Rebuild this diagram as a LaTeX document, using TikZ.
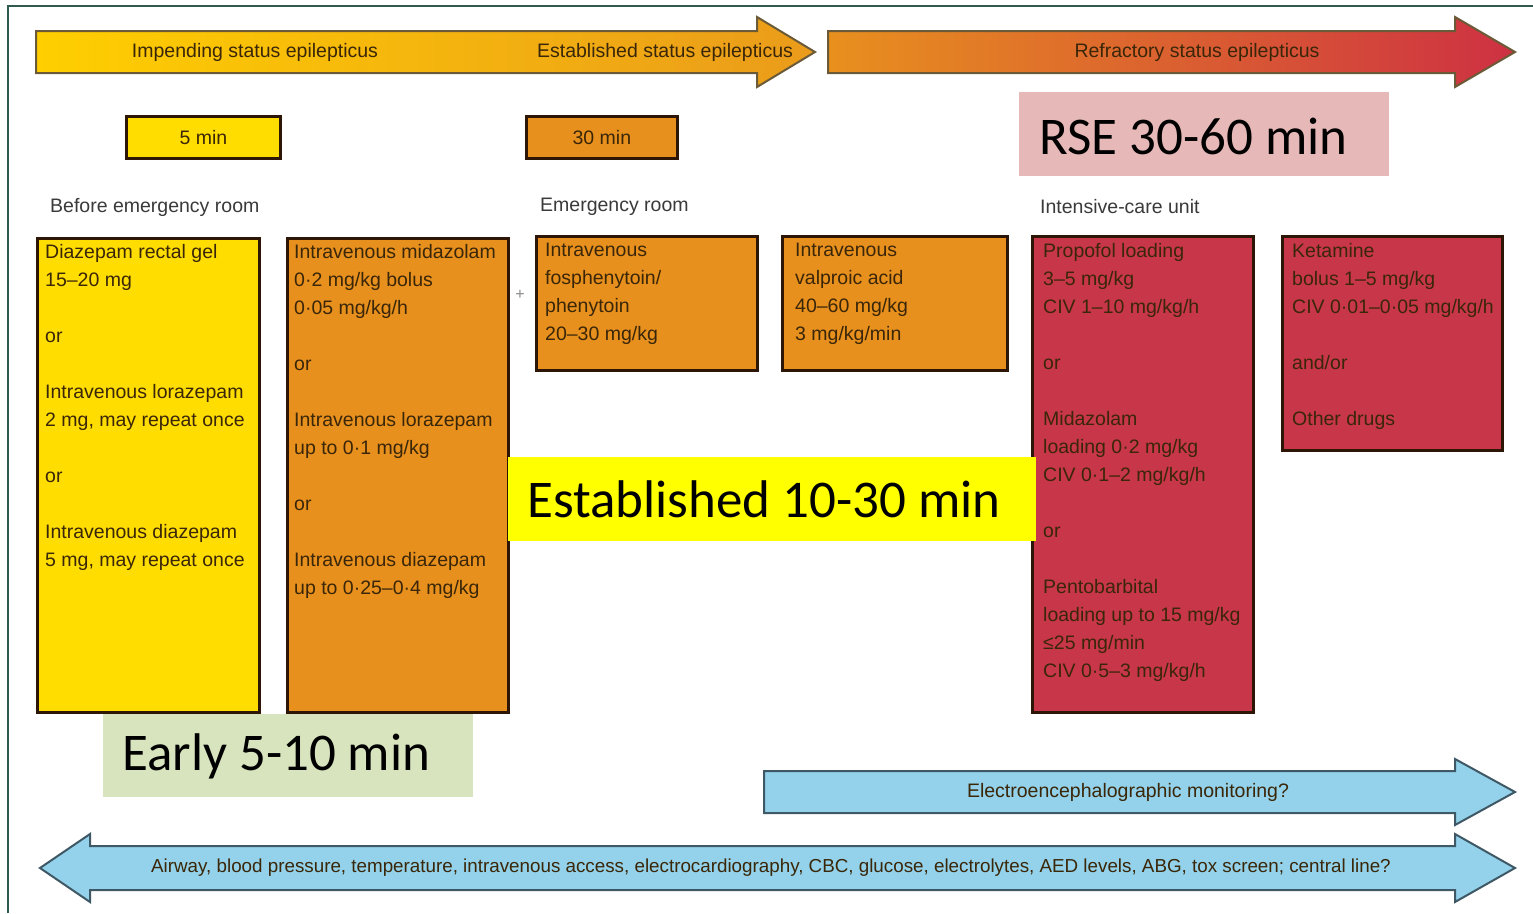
\documentclass[tikz,border=0pt]{standalone}
\usepackage{fontspec}
\setmainfont{Liberation Sans}
\newfontfamily\calib{Carlito}
\definecolor{frameC}{HTML}{2F5A50}
\definecolor{yel}{HTML}{FFDD00}
\definecolor{org}{HTML}{E8901E}
\definecolor{redb}{HTML}{C8364A}
\definecolor{boxline}{HTML}{2E1606}
\definecolor{txtc}{HTML}{3A2608}
\definecolor{lblc}{HTML}{3A3A3A}
\definecolor{arrline}{HTML}{6B5A38}
\definecolor{blueF}{HTML}{93D2EA}
\definecolor{blueL}{HTML}{3F5866}
\definecolor{rseC}{HTML}{E6B9B8}
\definecolor{earlyC}{HTML}{D7E4BD}
\definecolor{estC}{HTML}{FFFF00}
\begin{document}
\begin{tikzpicture}[x=1pt,y=-1pt,
  box/.style={draw=boxline, line width=2.8pt, anchor=north west, inner sep=0pt},
  txt/.style={anchor=north west, inner sep=0pt, align=left, font=\fontsize{19.5}{28}\selectfont, text=txtc},
  lbl/.style={anchor=west, inner sep=0pt, font=\fontsize{19.5}{24}\selectfont, text=lblc},
  arrtxt/.style={inner sep=0pt, font=\fontsize{19.5}{24}\selectfont, text=txtc},
  big/.style={inner sep=0pt, font=\calib\fontsize{53}{60}\selectfont, text=black},
  arrowshape/.style={draw=arrline, line width=2pt, line join=miter},
  bluearrow/.style={draw=blueL, line width=2pt, line join=miter, fill=blueF}]
\useasboundingbox (0,0) rectangle (1533,913);
\fill[white] (0,0) rectangle (1533,913);
% frame
\draw[frameC, line width=2.5pt] (8,913) -- (8,6) -- (1533,6);
% top arrows
\path[arrowshape, left color=yel!85!orange, right color=org!90!yellow]
  (36,31) -- (757,31) -- (757,17) -- (815,52) -- (757,87) -- (757,73) -- (36,73) -- cycle;
\path[arrowshape, left color=org, right color=redb!90!red]
  (828,31) -- (1455,31) -- (1455,17) -- (1515,52) -- (1455,87) -- (1455,73) -- (828,73) -- cycle;
\node[arrtxt] (ise) at (255,52) {Impending status epilepticus};
\node[arrtxt] (ese) at (665,52) {Established status epilepticus};
\node[arrtxt] (rse) at (1197,52) {Refractory status epilepticus};
% time boxes
\node[box, fill=yel, minimum width=154pt, minimum height=42pt] (t5) at (125,115) {};
\node[arrtxt] (t5t) at (t5.center) {5 min};
\node[box, fill=org, minimum width=151pt, minimum height=42pt] (t30) at (525,115) {};
\node[arrtxt] (t30t) at (t30.center) {30 min};
\node[anchor=north west, fill=rseC, minimum width=370pt, minimum height=84pt, inner sep=0pt] (rsebox) at (1019,92) {};
\node[big, anchor=west] (rsetxt) at (1039,136) {RSE 30-60 min};
% location labels
\node[lbl] (l1) at (50,207) {Before emergency room};
\node[lbl] (l2) at (540,207) {Emergency room};
\node[lbl] (l3) at (1040,207) {Intensive-care unit};
% drug boxes
\node[box, fill=yel, minimum width=222pt, minimum height=474pt] (b1) at (36,237) {};
\node[txt] (b1t) at (45,244) {Diazepam rectal gel\\15–20 mg\\[28pt]or\\[28pt]Intravenous lorazepam\\2 mg, may repeat once\\[28pt]or\\[28pt]Intravenous diazepam\\5 mg, may repeat once};
\node[box, fill=org, minimum width=221pt, minimum height=474pt] (b2) at (286,237) {};
\node[txt] (b2t) at (294,244) {Intravenous midazolam\\0·2 mg/kg bolus\\0·05 mg/kg/h\\[28pt]or\\[28pt]Intravenous lorazepam\\up to 0·1 mg/kg\\[28pt]or\\[28pt]Intravenous diazepam\\up to 0·25–0·4 mg/kg};
\node[inner sep=0pt, text=lblc!60, font=\fontsize{16}{18}\selectfont] (plus) at (520,295) {+};
\node[box, fill=org, minimum width=221pt, minimum height=134pt] (b3) at (535,235) {};
\node[txt] (b3t) at (545,243) {Intravenous\\fosphenytoin/\\phenytoin\\20–30 mg/kg};
\node[box, fill=org, minimum width=225pt, minimum height=134pt] (b4) at (781,235) {};
\node[txt] (b4t) at (795,243) {Intravenous\\valproic acid\\40–60 mg/kg\\3 mg/kg/min};
\node[box, fill=redb, minimum width=221pt, minimum height=476pt] (b5) at (1031,235) {};
\node[txt] (b5t) at (1043,243) {Propofol loading\\3–5 mg/kg\\CIV 1–10 mg/kg/h\\[28pt]or\\[28pt]Midazolam\\loading 0·2 mg/kg\\CIV 0·1–2 mg/kg/h\\[28pt]or\\[28pt]Pentobarbital\\loading up to 15 mg/kg\\≤25 mg/min\\CIV 0·5–3 mg/kg/h};
\node[box, fill=redb, minimum width=220pt, minimum height=214pt] (b6) at (1281,235) {};
\node[txt] (b6t) at (1292,243) {Ketamine\\bolus 1–5 mg/kg\\CIV 0·01–0·05 mg/kg/h\\[28pt]and/or\\[28pt]Other drugs};
% stage labels
\node[anchor=north west, fill=estC, minimum width=528pt, minimum height=84pt, inner sep=0pt] (estbox) at (508,457) {};
\node[big, anchor=west] (esttxt) at (527,499) {Established 10-30 min};
\node[anchor=north west, fill=earlyC, minimum width=370pt, minimum height=83pt, inner sep=0pt] (earlybox) at (103,714) {};
\node[big, anchor=west] (earlytxt) at (122,756) {Early 5-10 min};
% bottom arrows
\path[bluearrow] (764,771) -- (1455,771) -- (1455,759) -- (1515,792) -- (1455,825) -- (1455,813) -- (764,813) -- cycle;
\node[arrtxt] (eeg) at (1128,792) {Electroencephalographic monitoring?};
\path[bluearrow] (90,846) -- (1455,846) -- (1455,834) -- (1515,868) -- (1455,902) -- (1455,890) -- (90,890) -- (90,902) -- (40,868) -- (90,834) -- cycle;
\node[arrtxt, font=\fontsize{18.8}{24}\selectfont] (gen) at (771,868) {Airway, blood pressure, temperature, intravenous access, electrocardiography, CBC, glucose, electrolytes, AED levels, ABG, tox screen; central line?};
\end{tikzpicture}
\end{document}
